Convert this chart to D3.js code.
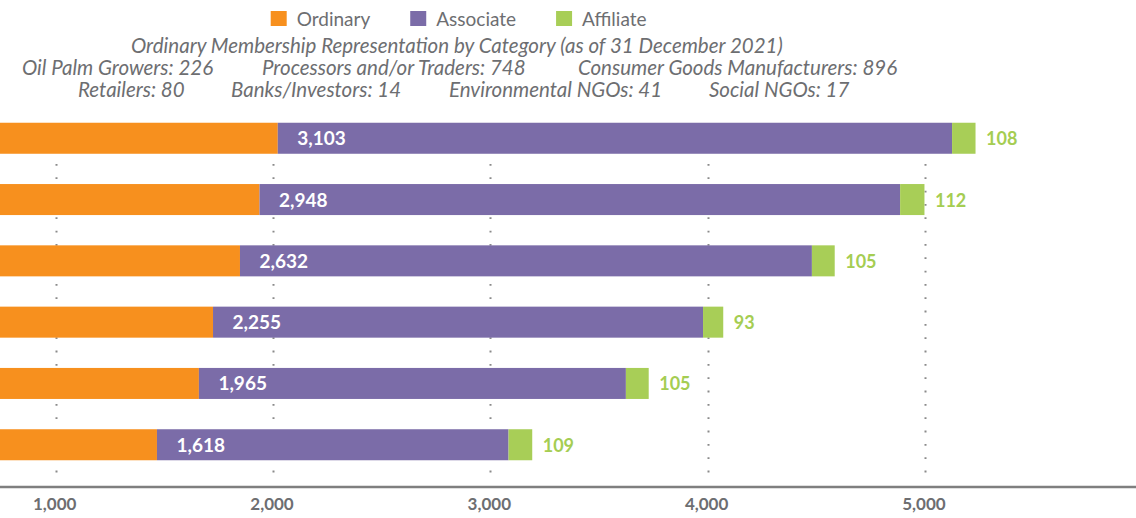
<!DOCTYPE html>
<html>
<head>
<meta charset="utf-8">
<script src="https://cdn.jsdelivr.net/npm/d3@7"></script>
<style>
  html, body { margin: 0; padding: 0; background: #fff; }
  svg { display: block; }
</style>
</head>
<body>
<div id="chart"></div>
<script>
// ---- data ----
const categories = ["2021", "2020", "2019", "2018", "2017", "2016"];
const ordinary  = [2022, 1938, 1848, 1724, 1659, 1466];
const associate = [3103, 2948, 2632, 2255, 1965, 1618];
const affiliate = [108, 112, 105, 93, 105, 109];
const seriesNames = ["Ordinary", "Associate", "Affiliate"];
const tickValues = [1000, 2000, 3000, 4000, 5000];
const subtitleTitle = "Ordinary Membership Representation by Category (as of 31 December 2021)";
const subtitleRow1 = ["Oil Palm Growers: 226", "Processors and/or Traders: 748", "Consumer Goods Manufacturers: 896"];
const subtitleRow2 = ["Retailers: 80", "Banks/Investors: 14", "Environmental NGOs: 41", "Social NGOs: 17"];

// ---- setup ----
const W = 1136, H = 518;
const colors = { Ordinary: "#F7901E", Associate: "#7B6CA8", Affiliate: "#A8CE57" };
const textGray = "#6D6E71";
const font = "Lato, 'Open Sans', sans-serif";

const svg = d3.select("#chart").append("svg").attr("width", W).attr("height", H);

const table = categories.map((c, i) => ({
  cat: c, Ordinary: ordinary[i], Associate: associate[i], Affiliate: affiliate[i]
}));
const stacked = d3.stack().keys(seriesNames)(table);

const x = d3.scaleLinear().domain([0, 5971.5]).range([-161.6, W]);
const y = d3.scaleBand().domain(categories).range([107.6, 475.4])
  .paddingInner(0.494).paddingOuter(0.247);

// grid lines
svg.append("g").selectAll("line").data(tickValues).join("line")
  .attr("x1", d => Math.round(x(d)) + 0.5).attr("x2", d => Math.round(x(d)) + 0.5)
  .attr("y1", 124).attr("y2", 474)
  .attr("stroke", "#8a8a8a").attr("stroke-width", 2)
  .attr("stroke-dasharray", "1.8,11.53");

// bars
const groups = svg.append("g").selectAll("g").data(stacked).join("g")
  .attr("fill", d => colors[d.key]);
groups.selectAll("rect").data(d => d).join("rect")
  .attr("x", d => x(d[0]))
  .attr("width", d => x(d[1]) - x(d[0]))
  .attr("y", d => y(d.data.cat))
  .attr("height", y.bandwidth());

// associate value labels (inside purple)
const fmt = d3.format(",");
const assoc = stacked.find(s => s.key === "Associate");
svg.append("g").selectAll("text").data(assoc).join("text")
  .attr("x", d => x(d[0]) + 19.5)
  .attr("y", d => y(d.data.cat) + y.bandwidth() / 2 + 7)
  .attr("fill", "#fff").attr("font-family", font).attr("font-weight", 700)
  .attr("font-size", 19).text(d => fmt(d.data.Associate));

// affiliate labels (outside, green)
const affl = stacked.find(s => s.key === "Affiliate");
svg.append("g").selectAll("text").data(affl).join("text")
  .attr("x", d => x(d[1]) + 10.5)
  .attr("y", d => y(d.data.cat) + y.bandwidth() / 2 + 7)
  .attr("fill", "#A5CD52").attr("font-family", font).attr("font-weight", 700)
  .attr("font-size", 18).text(d => fmt(d.data.Affiliate));

// x axis
const axis = svg.append("g").attr("transform", "translate(0,486.5)")
  .call(d3.axisBottom(x).tickValues(tickValues).tickSize(0).tickSizeOuter(0).tickPadding(0).tickFormat(fmt));
axis.select(".domain").attr("stroke", "#7F7F7F").attr("stroke-width", 2.5);
axis.selectAll(".tick text").attr("y", 0).attr("dy", 23.5).attr("dx", -1.5)
  .attr("fill", textGray).attr("font-family", font).attr("font-weight", 700).attr("font-size", 17);

// legend
const legend = svg.append("g");
let lx = 270.7;
seriesNames.forEach(name => {
  legend.append("rect").attr("x", lx).attr("y", 11).attr("width", 16).attr("height", 15).attr("fill", colors[name]);
  const t = legend.append("text").attr("x", lx + 26).attr("y", 26)
    .attr("fill", textGray).attr("font-family", font).attr("font-size", 19).text(name);
  lx += 26 + t.node().getComputedTextLength() + 40;
});

// subtitle
const sub = svg.append("g").attr("fill", textGray).attr("font-family", font)
  .attr("font-style", "italic").attr("font-size", 20.5);
sub.append("text").attr("x", 131).attr("y", 53).text(subtitleTitle);
const row1X = [22, 262, 578];
subtitleRow1.forEach((s, i) => sub.append("text").attr("x", row1X[i]).attr("y", 75).text(s));
const row2X = [78, 231, 449, 709];
subtitleRow2.forEach((s, i) => sub.append("text").attr("x", row2X[i]).attr("y", 97).text(s));
</script>
</body>
</html>
